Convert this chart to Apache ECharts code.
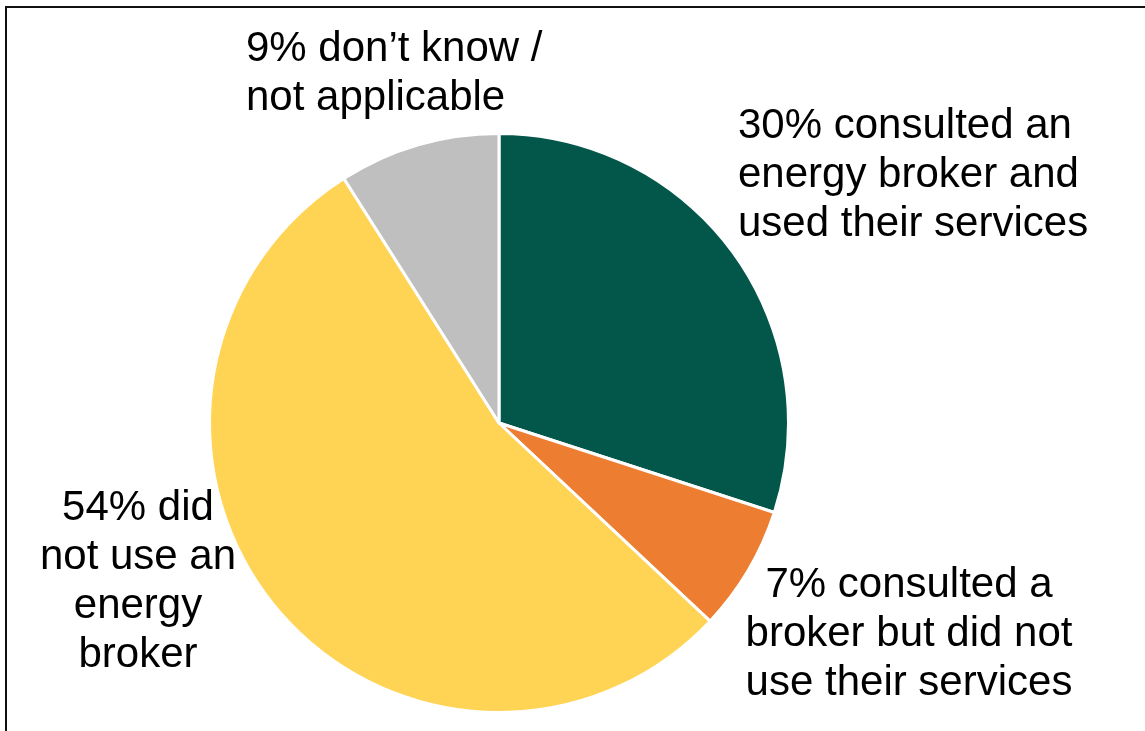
<!DOCTYPE html>
<html>
<head>
<meta charset="utf-8">
<title>Use of energy brokers</title>
<script src="https://cdn.jsdelivr.net/npm/echarts@6/dist/echarts.min.js"></script>
<style>
  html, body { margin: 0; padding: 0; background: #ffffff; }
  #chart { width: 1145px; height: 731px; }
</style>
</head>
<body>
<div id="chart"></div>
<script>
// Share of respondents (%) by energy-broker usage, clockwise from 12 o'clock
const categories = [
  'consulted an\nenergy broker and\nused their services',
  'consulted a\nbroker but did not\nuse their services',
  'did\nnot use an\nenergy\nbroker',
  'don\u2019t know /\nnot applicable'
];
const shares = [30, 7, 54, 9];
const sliceColors = ['#03574A', '#ED7D31', '#FFD455', '#BFBFBF'];

// Where each label block sits (anchor point and alignment)
const labelAnchors = [
  { x: 738, y: 175, align: 'left' },
  { x: 909, y: 634, align: 'center' },
  { x: 138, y: 582, align: 'center' },
  { x: 246, y: 74, align: 'left' }
];

const chart = echarts.init(document.getElementById('chart'), null, { renderer: 'canvas' });

chart.setOption({
  backgroundColor: '#ffffff',
  animation: false,
  graphic: [{
    type: 'rect',
    shape: { x: 6, y: 7, width: 1300, height: 900 },
    style: { fill: 'none', stroke: '#111111', lineWidth: 2 },
    silent: true
  }],
  series: [{
    type: 'pie',
    center: [499, 423],
    radius: 289.5,
    startAngle: 90,
    clockwise: true,
    avoidLabelOverlap: false,
    itemStyle: { borderColor: '#ffffff', borderWidth: 3 },
    label: {
      show: true,
      position: 'outside',
      color: '#000000',
      fontFamily: '"Liberation Sans", Arial, sans-serif',
      fontSize: 42,
      lineHeight: 49,
      formatter: p => p.value + '% ' + p.name
    },
    labelLine: { show: false },
    labelLayout: p => {
      const a = labelAnchors[p.dataIndex];
      return { x: a.x, y: a.y, align: a.align, verticalAlign: 'middle' };
    },
    emphasis: { disabled: true },
    data: shares.map((v, i) => ({
      name: categories[i],
      value: v,
      itemStyle: { color: sliceColors[i] },
      label: { align: labelAnchors[i].align }
    }))
  }]
});
</script>
</body>
</html>
